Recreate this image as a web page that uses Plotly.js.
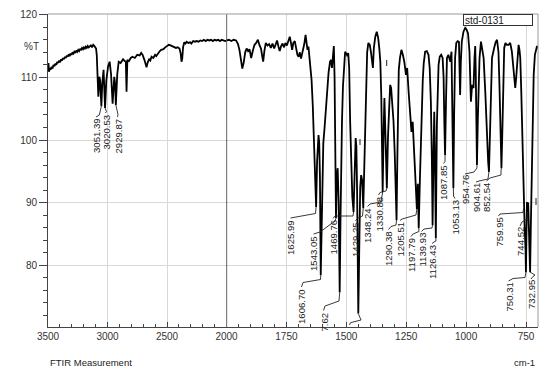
<!DOCTYPE html>
<html><head><meta charset="utf-8">
<script src="https://cdn.plot.ly/plotly-3.0.1.min.js"></script>
<style>html,body{margin:0;padding:0;background:#fff}#chart{width:560px;height:376px}</style>
</head><body><div id="chart"></div>
<script>
// ---------- DATA ----------
// High-wavenumber part (3500 -> 2000 cm-1), compressed scale
const wnHigh = [3500,3496,3492,3486,3478,3470,3462,3454,3446,3438,3430,3422,3414,3406,3398,3390,3382,3374,3366,3358,3350,3342,3334,3326,3318,3310,3302,3294,3286,3278,3270,3262,3254,3246,3238,3230,3222,3214,3206,3198,3190,3182,3174,3166,3158,3150,3140,3130,3120,3110,3102,3096,3090,3085,3077,3068,3062,3051.39,3044,3033,3027,3020.53,3010,2995,2982,2970,2957,2950,2943,2936,2929.87,2918,2906,2890,2869,2855,2846,2840,2833,2820,2805,2790,2770,2750,2730,2717,2705,2690,2680,2672,2662,2650,2640,2630,2615,2600,2590,2575,2560,2549,2530,2515,2500,2485,2470,2455,2440,2425,2410,2395,2385,2378,2372,2365,2355,2345,2335,2320,2305,2295,2280,2265,2250,2235,2220,2205,2190,2175,2160,2145,2130,2115,2100,2085,2070,2055,2040,2025,2010,2000];
const tHigh  = [111.6,112.3,110.9,111.5,111.2,111.7,111.4,112.0,111.8,112.2,112.0,112.5,112.3,112.7,112.4,112.9,112.7,113.1,112.9,113.3,113.1,113.5,113.3,113.7,113.4,113.8,113.6,114.0,113.8,114.1,113.9,114.3,114.1,114.4,114.2,114.5,114.4,114.7,114.5,114.8,114.6,114.9,114.7,115.0,114.8,114.9,115.1,114.8,115.2,115.0,114.8,114.6,113.5,110.5,106.9,110.1,109.5,105.4,109.0,111.2,109.0,105.1,109.5,111.8,112.5,110.5,105.8,108.0,110.1,109.0,105.6,110.5,112.5,112.3,112.9,112.6,112.5,107.7,112.8,112.6,113.1,113.3,113.1,113.6,113.5,113.9,113.6,112.8,111.8,111.6,112.4,112.9,112.7,113.3,113.1,113.6,113.4,113.9,114.2,114.4,114.5,114.8,115.0,115.2,115.1,115.0,114.8,114.7,114.8,114.6,113.8,112.5,113.0,114.8,115.6,115.4,115.7,115.5,115.6,115.4,115.8,115.7,115.8,115.7,115.9,115.8,116.0,115.8,116.0,115.9,116.0,115.8,116.0,115.9,116.0,115.8,116.0,115.9,115.8,115.9];

// Low-wavenumber part (2000 -> 700 cm-1), expanded scale
const wnLow = [2000,1990,1980,1970,1960,1952,1946,1940,1934,1928,1922,1916,1910,1904,1897,1890,1883,1876,1869,1862,1856,1851,1847,1842,1836,1829,1822,1815,1808,1801,1795,1789,1783,1778,1772,1766,1760,1754,1748,1742,1736,1731,1726,1721,1715,1710,1704,1699,1694,1689,1685,1680,1675,1670,1666,1662,1658,1654,1650,1645,1640,1635,1630,1625.99,1622,1619,1616,1613,1610,1606.70,1603,1600,1596,1591,1586,1580,1574,1568,1564,1560,1556,1552,1549,1546,1543.05,1540,1536,1532,1527.62,1524,1521,1518,1514,1510,1505,1500,1495,1492,1488,1484,1480,1475,1469.76,1465,1461,1458,1455,1450,1446,1442,1438,1434,1429.25,1425,1421,1417,1413,1408,1402,1397,1393,1389,1385,1379,1373,1367,1362,1358,1354,1348.24,1344,1341,1337,1330.88,1326,1321,1317,1313,1308,1303,1298,1294,1290.38,1287,1284,1281,1276,1270,1264,1258,1251,1246,1240,1234,1228,1223,1217,1211,1205.51,1201.5,1197.79,1193,1189,1185,1181,1177,1171,1164,1157,1152,1147,1143,1139.93,1136,1133,1130,1126.43,1122,1118,1115,1110,1104,1098,1094,1091,1087.85,1084,1080,1074,1068,1066,1061,1057,1053.13,1050,1046,1041,1035,1030,1027,1025,1022,1018,1011,1004,998,992,986,983,980,975,969,965,962,960,958,954.76,951,947,944,938,931,927,920,913,908,904.61,899,892,883,877,871,865,861,857,852.54,849,846,841,836,830,823,816,809,802,798,795,791,788,784,781,777,774,770,767,763,759.95,756,752,750.31,748,746,744.52,741,738,735,732.95,730,727,723,718,713,709,704,700];
const tLow  = [115.9,116.0,115.8,116.0,115.9,115.3,114.4,112.6,111.4,112.4,114.0,114.6,114.2,114.5,113.1,114.3,115.2,115.5,116.0,115.1,114.6,113.4,112.5,114.2,115.5,115.1,115.3,114.7,115.4,114.6,115.2,115.9,114.9,114.2,115.0,115.4,114.8,115.5,115.1,115.7,116.5,115.5,114.4,115.5,115.8,114.8,113.6,113.3,114.0,113.0,113.6,114.8,115.4,116.8,115.3,114.4,114.9,113.5,111.2,109.6,105.6,99.0,93.0,89.3,96.5,100.3,100.8,99.5,94.0,78.4,88.0,95.5,99.5,101.8,104.5,107.7,110.8,112.5,112.8,111.5,112.9,115.0,110.0,95.0,87.5,94.0,95.5,90.0,75.7,88.0,98.5,103.0,108.5,111.5,114.1,113.8,113.4,113.9,111.5,103.0,97.0,91.0,88.5,95.5,100.3,99.0,92.0,72.3,86.4,92.5,94.4,93.6,89.1,97.1,103.0,110.5,114.0,115.5,115.2,114.0,112.8,111.5,114.7,116.5,117.3,116.3,114.5,112.5,107.0,91.7,102.0,106.7,101.3,92.3,100.5,106.0,108.8,108.3,106.0,103.0,98.0,93.0,87.2,97.0,106.0,111.2,113.1,114.4,113.6,112.5,110.4,111.5,107.7,104.5,101.3,102.9,98.1,93.3,89.0,93.0,85.9,93.5,100.0,105.1,109.5,112.2,114.1,114.2,113.6,111.5,106.0,97.1,86.4,98.0,104.5,97.0,84.3,102.4,109.0,112.0,113.3,113.6,113.1,110.0,103.0,97.6,106.0,113.1,113.6,113.0,112.5,114.1,104.0,92.3,104.0,113.1,115.5,115.8,115.7,111.0,107.2,112.5,115.7,117.3,117.9,117.6,117.0,114.1,110.0,106.1,108.8,108.3,113.1,115.0,111.5,107.7,96.0,103.5,110.0,113.1,115.7,114.1,113.1,107.7,99.7,96.5,94.9,105.1,113.1,114.7,115.6,116.0,114.1,109.0,103.5,95.5,101.0,107.7,114.7,115.5,115.2,115.2,115.5,114.1,111.5,109.5,108.3,110.0,112.0,114.5,115.2,114.3,113.1,108.0,102.4,95.0,89.1,86.4,82.5,78.9,85.3,90.1,88.5,90.0,86.4,82.0,78.9,86.0,91.7,102.4,110.4,113.6,114.3,115.0,114.6];

// Peak labels (text as printed) and the peak wavenumbers they point at
const peakLabels = ["3051.39","3020.53","2929.87","1625.99","1606.70","1543.05","7.62","1469.76","1429.25","","1348.24","1330.88","1290.38","1205.51","1197.79","1139.93","1126.43","1087.85","1053.13","954.76","904.61","852.54","759.95","744.52","750.31","732.95"];
const peakWn     = [3051.39,3020.53,2929.87,1625.99,1606.70,1543.05,1527.62,1469.76,1429.25,1450,1348.24,1330.88,1290.38,1205.51,1197.79,1139.93,1126.43,1087.85,1053.13,954.76,904.61,852.54,759.95,744.52,750.31,732.95];

const xTicksHigh = [3500,3000,2500];
const xTicksLow  = [2000,1750,1500,1250,1000,750];

// ---------- LAYOUT GEOMETRY ----------
const W = 560, H = 376;
const PL = 48, PR = 538, PT = 14, PB = 327;
const split = (226.5-PL)/(PR-PL);
const XB = PL + split*(PR-PL);
const yR = [70.14, 120.12];
function pxToX(px){ return px < XB ? 3500 - (px-PL)/(XB-PL)*1500 : 2000 - (px-XB)/(PR-XB)*1300; }
function pyToY(py){ return yR[1] - (py-PT)/(PB-PT)*(yR[1]-yR[0]); }
function paperX(px){ return (px-PL)/(PR-PL); }
function paperY(py){ return (PB-py)/(PB-PT); }

// label placement in pixels: [center x, top y, bend points...]
const labelPlace = [
 [96,117.5,[[96,117],[99.3,115]]],
 [105.5,113.5,[[105.5,113],[106.5,111.5]]],
 [117.5,117.5,[[117.5,117],[118,114.5]]],
 [290.5,219,[[290.5,218],[315.5,213.5]]],
 [301.5,288,[[301.5,287],[303,282.5],[320.5,279.5]]],
 [313.5,235,[[313.5,234],[320,232],[335,221]]],
 [323.5,311.5,[[323.5,310.5],[325,306],[339,301]]],
 [333,219,[[333,218.5],[335,216],[353,216]]],
 [355.5,221,[[355.5,220.5],[358,218],[362.5,216]]],
 [349.5,330,[[349.5,325],[350.5,322.7],[361,320]]],
 [367.5,207,[[367.5,206.5],[370,204],[381,202]]],
 [378.5,195.5,[[378.5,195],[380,192.5],[386,191]]],
 [388.5,230,[[388.5,229.5],[391,226.5],[396,225]]],
 [400,221,[[400,220.5],[402,219],[416,215]]],
 [411,237,[[411,236.5],[413,234],[419,231.5]]],
 [421.5,232,[[421.5,231.5],[424,229],[432,228]]],
 [432,244,[[432,243.5],[434,242],[436,241]]],
 [443.5,164,[[443.5,163.5],[445,161.5]]],
 [455,199,[[455,198.5],[453.5,196]]],
 [465,174.5,[[465,174],[474,172],[477,168]]],
 [476,182.5,[[476,182],[479,181],[488,179],[488.5,175]]],
 [486.5,181.5,[[486.5,181],[490,178],[501,175],[501,171]]],
 [498.5,216.5,[[498.5,216],[500,214],[523,212.5]]],
 [520,226.5,[[520,226],[522,222],[527,219]]],
 [508.5,281.5,[[508.5,281],[513,278.5],[525,277.5]]],
 [531,279.5,[[531,279],[533,276.5],[535,275]]]
];

function tAt(wn){
  const arrW = wn > 2000 ? wnHigh : wnLow, arrT = wn > 2000 ? tHigh : tLow;
  let best = 0, bd = 1e9;
  for(let i=0;i<arrW.length;i++){ const d=Math.abs(arrW[i]-wn); if(d<bd){bd=d;best=i;} }
  return arrT[best];
}

const font = 'Liberation Sans, Arial, sans-serif';
const annotations = [], shapes = [];
peakLabels.forEach((lab,i)=>{
  const [cx, top, bends] = labelPlace[i];
  const ax = peakWn[i] > 2000 ? 'x' : 'x2';
  if(lab){
    annotations.push({xref:ax, yref:'y', x:pxToX(cx), y:pyToY(top), text:lab, textangle:-90,
      xanchor:'center', yanchor:'top', showarrow:false, borderpad:0,
      font:{family:font, size:9.6, color:'#222'}});
  }
  let path = '';
  bends.forEach((b,j)=>{ path += (j?' L ':'M ') + pxToX(b[0]) + ',' + pyToY(b[1]); });
  path += ' L ' + peakWn[i] + ',' + tAt(peakWn[i]);
  shapes.push({type:'path', xref:ax, yref:'y', path:path, line:{color:'#222', width:0.9}});
});

// small stray marks present in the original
[[386.7,60,66],[360,139,145],[536,198,205]].forEach(m=>{
  shapes.push({type:'line', xref:'paper', yref:'paper', x0:paperX(m[0]), x1:paperX(m[0]), y0:paperY(m[1]), y1:paperY(m[2]), line:{color:'#222', width:1}});
});
// break line at 2000 and top/right frame
shapes.push({type:'line', xref:'x2', yref:'paper', x0:2000, x1:2000, y0:0, y1:1, line:{color:'#000', width:1.2}});
shapes.push({type:'line', xref:'paper', yref:'paper', x0:0, x1:1, y0:1, y1:1, line:{color:'#9a9a9a', width:1}});
shapes.push({type:'line', xref:'paper', yref:'paper', x0:1, x1:1, y0:0, y1:1, line:{color:'#9a9a9a', width:1}});

annotations.push({xref:'paper', yref:'paper', x:paperX(31), y:paperY(46.5), text:'%T', showarrow:false, xanchor:'center', yanchor:'middle', font:{family:font, size:10, color:'#333'}});
annotations.push({xref:'paper', yref:'paper', x:paperX(48), y:paperY(362), text:'FTIR Measurement', showarrow:false, xanchor:'left', yanchor:'middle', font:{family:font, size:9.5, color:'#222'}});
annotations.push({xref:'paper', yref:'paper', x:paperX(537), y:paperY(362), text:'cm-1', showarrow:false, xanchor:'right', yanchor:'middle', font:{family:font, size:9.5, color:'#222'}});
annotations.push({xref:'paper', yref:'paper', x:paperX(463), y:1, text:'std-0131', showarrow:false, xanchor:'left', yanchor:'top', align:'left', width:66, height:8, borderpad:1, bordercolor:'#333', borderwidth:1, bgcolor:'#fff', font:{family:font, size:10, color:'#222'}});

const lineStyle = {color:'#000', width:1.8};
const traces = [
  {x:wnHigh, y:tHigh, type:'scatter', mode:'lines', line:lineStyle, xaxis:'x', yaxis:'y', hoverinfo:'skip'},
  {x:wnLow, y:tLow, type:'scatter', mode:'lines', line:lineStyle, xaxis:'x2', yaxis:'y', hoverinfo:'skip'}
];

const axCommon = {showline:true, linecolor:'#444', linewidth:1, ticks:'inside', ticklen:5, tickcolor:'#444',
  showgrid:true, gridcolor:'#d8d8d8', gridwidth:1, zeroline:false, tickmode:'array',
  tickfont:{family:font, size:10, color:'#333'}};

const layout = {
  width:W, height:H, margin:{l:PL, r:W-PR, t:PT, b:H-PB}, showlegend:false,
  paper_bgcolor:'#fff', plot_bgcolor:'#fff',
  xaxis: Object.assign({}, axCommon, {domain:[0,split], range:[3500,2000], tickvals:xTicksHigh, anchor:'y',
    minor:{tickmode:'linear', tick0:0, dtick:100, ticks:'inside', ticklen:3, tickcolor:'#444', showgrid:false}}),
  xaxis2: Object.assign({}, axCommon, {domain:[split,1], range:[2000,700], tickvals:xTicksLow, anchor:'y',
    minor:{tickmode:'linear', tick0:0, dtick:50, ticks:'inside', ticklen:3, tickcolor:'#444', showgrid:false}}),
  yaxis: {range:yR, tickmode:'linear', tick0:0, dtick:10, ticks:'outside', ticklen:8, tickcolor:'#444',
    showline:true, linecolor:'#444', linewidth:1, showgrid:true, gridcolor:'#d8d8d8', zeroline:false,
    tickfont:{family:font, size:10, color:'#333'},
    minor:{dtick:2, ticks:'outside', ticklen:4, tickcolor:'#444', showgrid:false}},
  annotations: annotations, shapes: shapes
};
Plotly.newPlot('chart', traces, layout, {staticPlot:true, displayModeBar:false});
</script></body></html>
